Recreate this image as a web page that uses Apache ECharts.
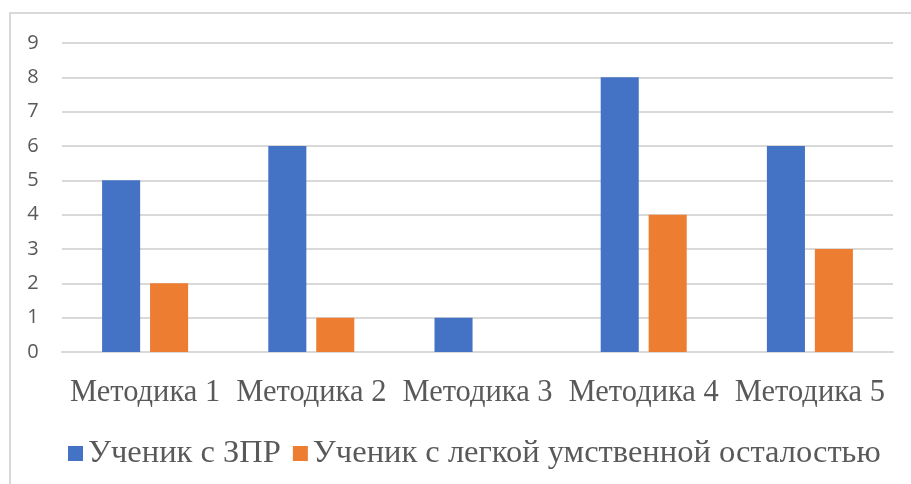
<!DOCTYPE html>
<html><head><meta charset="utf-8">
<script src="https://cdn.jsdelivr.net/npm/echarts@6/dist/echarts.min.js"></script>
<style>html,body{margin:0;padding:0;background:#fff}#c{width:911px;height:484px}</style>
</head><body><div id="c"></div>
<script>
const categories = ['Методика 1','Методика 2','Методика 3','Методика 4','Методика 5'];
const seriesNames = ['Ученик с ЗПР','Ученик с легкой умственной осталостью'];
const zprValues = [5, 6, 1, 8, 6];
const umoValues = [2, 1, 0, 4, 3];
const yTicks = [0,1,2,3,4,5,6,7,8,9];

const serif = '"Liberation Serif", serif';
const chart = echarts.init(document.getElementById('c'));
chart.setOption({
  animation: false,
  graphic: [{type:'rect', shape:{x:10,y:13,width:1000,height:1000}, style:{fill:'none', stroke:'#d9d9d9', lineWidth:2}}],
  grid: {left: 62, right: 18, top: 43, bottom: 132},
  legend: {
    top: 432, left: 63, itemWidth: 15, itemHeight: 15, itemGap: 12, icon: 'rect',
    textStyle: {fontFamily: serif, fontSize: 32.5, color: '#595959'},
    data: seriesNames
  },
  xAxis: {
    type: 'category', data: categories,
    axisLine: {lineStyle: {color: '#d9d9d9', width: 2}}, axisTick: {show: false},
    axisLabel: {fontFamily: serif, fontSize: 30.5, color: '#595959', margin: 25, interval: 0}
  },
  yAxis: {
    type: 'value', min: yTicks[0], max: yTicks[yTicks.length-1], interval: 1,
    axisLine: {show: false}, axisTick: {show: false},
    splitLine: {lineStyle: {color: '#d9d9d9', width: 2}},
    axisLabel: {fontFamily: 'Open Sans', fontSize: 20, color: '#595959', margin: 29, align: 'center'}
  },
  series: [
    {name: seriesNames[0], type: 'bar', data: zprValues, barWidth: '22.9%', barGap: '26%', itemStyle: {color: '#4472C4'}},
    {name: seriesNames[1], type: 'bar', data: umoValues, barWidth: '22.9%', itemStyle: {color: '#ED7D31'}}
  ]
});
</script></body></html>
